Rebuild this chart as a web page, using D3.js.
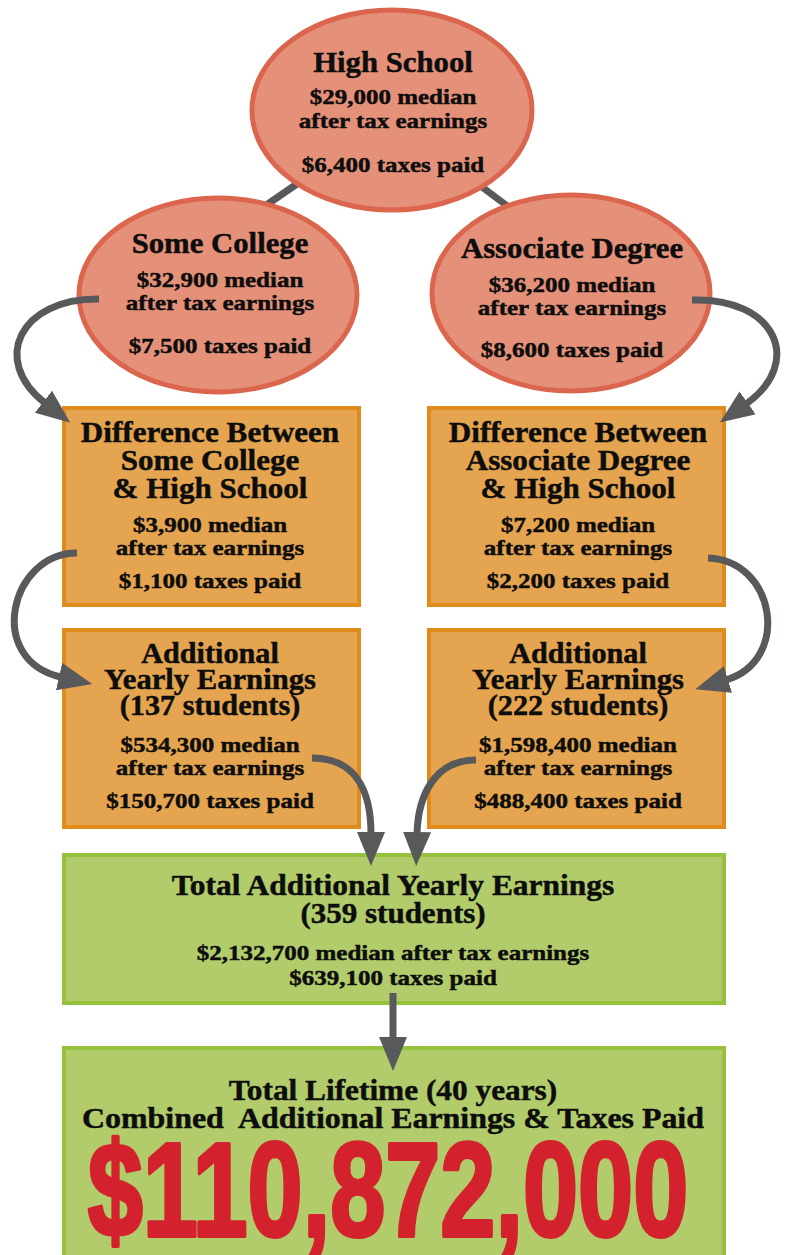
<!DOCTYPE html>
<html>
<head>
<meta charset="utf-8">
<script src="https://cdn.jsdelivr.net/npm/d3@7"></script>
<style>
  html, body { margin: 0; padding: 0; background: #fff; }
  svg { display: block; }
  text { font-family: "Liberation Serif", "Times New Roman", serif; font-weight: bold; fill: #0d0d0d; stroke: #0d0d0d; stroke-width: 0.45; white-space: pre; }
  .big { font-family: "Liberation Sans", Arial, sans-serif; fill: #d3222e; stroke: #d3222e; stroke-width: 4; stroke-linejoin: round; }
</style>
</head>
<body>
<svg id="chart" width="785" height="1255"></svg>
<script>
// ---------- DATA ----------
const levels = ["High School", "Some College", "Associate Degree"];
const medianEarnings = [29000, 32900, 36200];
const taxesPaid = [6400, 7500, 8600];

const diffTitles = [["Difference Between", "Some College", "& High School"],
                    ["Difference Between", "Associate Degree", "& High School"]];
const diffEarnings = [3900, 7200];
const diffTaxes = [1100, 2200];

const students = [137, 222];
const addEarnings = [534300, 1598400];
const addTaxes = [150700, 488400];

const totalStudents = 359;
const totalEarnings = 2132700;
const totalTaxes = 639100;

const lifetimeYears = 40;
const lifetimeTotal = 110872000;

// ---------- FORMAT / STYLE ----------
const fmt = d3.format("$,");
const C = {
  ellFill: "#e5917a", ellStroke: "#db654d",
  boxFill: "#e5a550", boxStroke: "#e08c1c",
  grnFill: "#b2cc6b", grnStroke: "#96c13f",
  arrow: "#58595b"
};
const TS = 1.06, BS = 1.19;   // horizontal stretch for title / body text

const svg = d3.select("#chart");
const gLines = svg.append("g");
const gShapes = svg.append("g");
const gArrows = svg.append("g");
const gText = svg.append("g");

function line(cx, y, str, size, sx, cls) {
  gText.append("text")
    .attr("class", cls || null)
    .attr("transform", `translate(${cx},${y}) scale(${sx},1)`)
    .attr("text-anchor", "middle")
    .attr("font-size", size)
    .text(str);
}

// ---------- connector lines between ellipses ----------
gLines.selectAll("line").data([[262, 208, 310, 175], [470, 178, 518, 214]]).join("line")
  .attr("x1", d => d[0]).attr("y1", d => d[1]).attr("x2", d => d[2]).attr("y2", d => d[3])
  .attr("stroke", C.arrow).attr("stroke-width", 7);

// ---------- ellipses ----------
const ellLayout = [
  { cx: 392, cy: 110, rx: 140, ry: 100, tx: 393, ys: [72, 104, 128, 172] },
  { cx: 218, cy: 295, rx: 139, ry: 97, tx: 220, ys: [253, 287, 310, 353] },
  { cx: 571, cy: 293, rx: 139, ry: 98, tx: 572, ys: [258, 292, 315, 357] }
];
ellLayout.forEach((e, i) => {
  gShapes.append("ellipse")
    .attr("cx", e.cx).attr("cy", e.cy).attr("rx", e.rx).attr("ry", e.ry)
    .attr("fill", C.ellFill).attr("stroke", C.ellStroke).attr("stroke-width", 5);
  line(e.tx, e.ys[0], levels[i], 29, TS);
  line(e.tx, e.ys[1], fmt(medianEarnings[i]) + " median", 21, BS);
  line(e.tx, e.ys[2], "after tax earnings", 21, BS);
  line(e.tx, e.ys[3], fmt(taxesPaid[i]) + " taxes paid", 21, BS);
});

// ---------- rectangles ----------
function box(x, y, w, h, fill, stroke) {
  gShapes.append("rect").attr("x", x + 2).attr("y", y + 2).attr("width", w - 4).attr("height", h - 4)
    .attr("fill", fill).attr("stroke", stroke).attr("stroke-width", 4);
}
const colX = [62, 427], colW = 299, colCx = [210, 578];

// Difference boxes
[0, 1].forEach(i => {
  box(colX[i], 406, colW, 201, C.boxFill, C.boxStroke);
  const cx = colCx[i];
  line(cx, 442, diffTitles[i][0], 28.5, 1.095);
  line(cx, 470, diffTitles[i][1], 28.5, 1.09);
  line(cx, 498, diffTitles[i][2], 28.5, 1.09);
  line(cx, 532, fmt(diffEarnings[i]) + " median", 21, BS);
  line(cx, 555, "after tax earnings", 21, BS);
  line(cx, 588, fmt(diffTaxes[i]) + " taxes paid", 21, BS);
});

// Additional yearly earnings boxes
[0, 1].forEach(i => {
  box(colX[i], 628, colW, 201, C.boxFill, C.boxStroke);
  const cx = colCx[i];
  line(cx, 663, "Additional", 28.5, TS);
  line(cx, 689, "Yearly Earnings", 28.5, 1.075);
  line(cx, 715, `(${students[i]} students)`, 28.5, TS);
  line(cx, 752, fmt(addEarnings[i]) + " median", 21, BS);
  line(cx, 775, "after tax earnings", 21, BS);
  line(cx, 808, fmt(addTaxes[i]) + " taxes paid", 21, BS);
});

// Total box
box(62, 853, 664, 152, C.grnFill, C.grnStroke);
line(393, 895, "Total Additional Yearly Earnings", 29, 1.085);
line(393, 923, `(${totalStudents} students)`, 29, 1.07);
line(393, 960, fmt(totalEarnings) + " median after tax earnings", 21, BS);
line(393, 985, fmt(totalTaxes) + " taxes paid", 21, BS);

// Lifetime box
box(62, 1046, 664, 215, C.grnFill, C.grnStroke);
line(393, 1100, `Total Lifetime (${lifetimeYears} years)`, 29, 1.08);
line(393, 1128, "Combined  Additional Earnings & Taxes Paid", 29, 1.10);
line(388, 1236, fmt(lifetimeTotal), 133, 0.745, "big");

// ---------- arrows ----------
svg.append("defs").append("marker")
  .attr("id", "ah").attr("markerUnits", "userSpaceOnUse")
  .attr("viewBox", "0 -14 34 28").attr("refX", 2).attr("refY", 0)
  .attr("markerWidth", 34).attr("markerHeight", 28).attr("orient", "auto")
  .append("path").attr("d", "M0,-14L34,0L0,14Z").attr("fill", C.arrow);

const arrows = [
  [[99, 299], [20, 298], [-10, 360], [45, 403]],
  [[77, 553], [10, 553], [-15, 660], [61, 677]],
  [[692, 300], [775, 297], [805, 362], [746, 404]],
  [[708, 558], [775, 560], [792, 660], [726, 680]],
  [[312, 758], [355, 758], [371, 790], [371, 834]],
  [[476, 760], [435, 760], [418, 795], [417, 834]],
  [[393, 993], [393, 1010], [393, 1025], [393, 1039]]
];
arrows.forEach(a => {
  const p = d3.path();
  p.moveTo(a[0][0], a[0][1]);
  p.bezierCurveTo(a[1][0], a[1][1], a[2][0], a[2][1], a[3][0], a[3][1]);
  gArrows.append("path").attr("d", p.toString())
    .attr("fill", "none").attr("stroke", C.arrow).attr("stroke-width", 7)
    .attr("marker-end", "url(#ah)");
});
</script>
</body>
</html>
